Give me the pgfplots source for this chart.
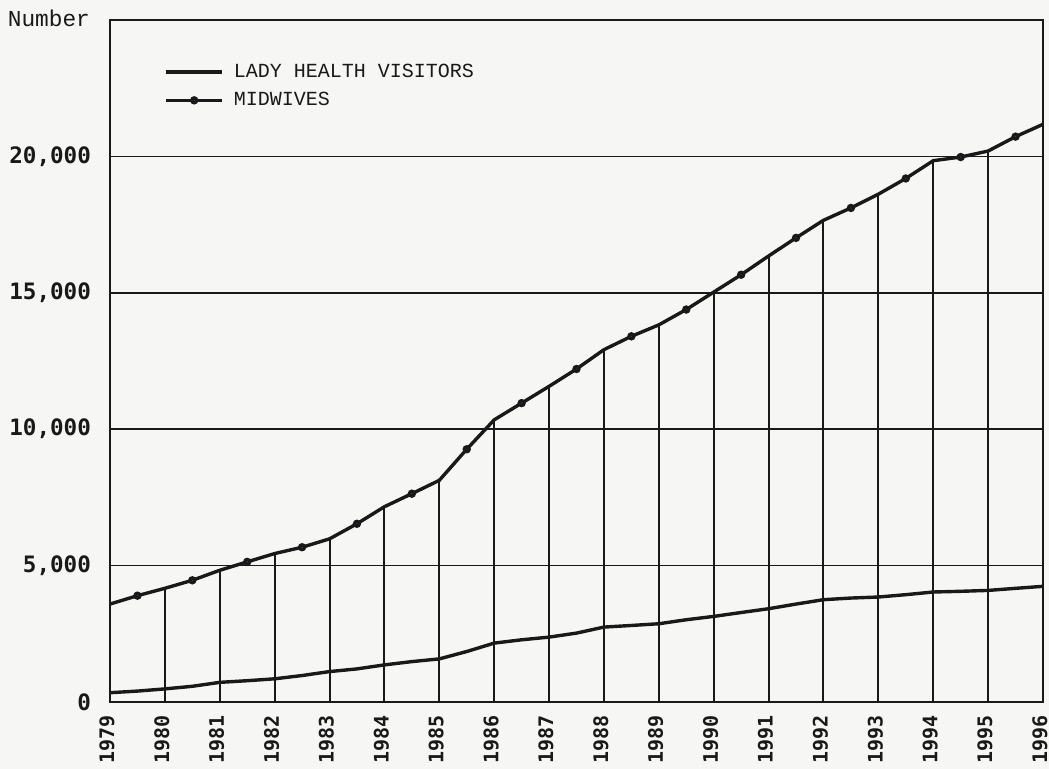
\documentclass[border=0pt]{standalone}
\usepackage{fontspec}
\usepackage{pgfplots}
\pgfplotsset{compat=1.18}
\newfontfamily\tickfont{DejaVu Sans Mono}
\newfontfamily\typefont{Liberation Mono}
\definecolor{paper}{RGB}{246,246,244}
\definecolor{ink}{RGB}{25,25,25}
\begin{document}
\begin{tikzpicture}
\path[use as bounding box, fill=paper] (-55pt,-33.5pt) rectangle (469.5pt,351pt);
\begin{axis}[
  at={(0,0)}, anchor=south west,
  scale only axis, width=466.5pt, height=341pt,
  xmin=1979, xmax=1996, ymin=0, ymax=25000,
  xtick={1979,...,1996},
  ytick={0,5000,10000,15000,20000},
  scaled y ticks=false,
  ymajorgrids, grid style={ink, line width=0.8pt},
  axis line style={ink, line width=1.1pt},
  tick style={draw=none},
  /pgf/number format/assume math mode=true,
  xticklabel style={font=\tickfont\bfseries\fontsize{10}{12}\selectfont, text=ink,
    xshift=-1.5pt, yshift=-3.2pt, rotate=90, anchor=east, /pgf/number format/1000 sep={}},
  yticklabel style={font=\tickfont\bfseries\fontsize{11.3}{13}\selectfont, text=ink,
    /pgf/number format/1000 sep={,}, xshift=-6pt},
  clip=false,
  legend style={draw=none, fill=none, at={(axis description cs:0.058,0.903)}, anchor=west,
    font=\typefont\fontsize{10}{12}\selectfont, row sep=2pt, column sep=3pt, inner sep=0pt, text=ink},
  legend cell align=left,
  legend image code/.code={\draw[mark repeat=2, mark phase=2, #1] plot coordinates {(0pt,0pt) (14pt,0pt) (28pt,0pt)};},
  legend image post style={line width=1.7pt},
]
\addplot[ycomb, ink, line width=1pt, forget plot] coordinates {
(1980,4167) (1981,4828) (1982,5441) (1983,5980) (1984,7158) (1985,8125)
(1986,10342) (1987,11570) (1988,12915) (1989,13824) (1990,15025) (1991,16349)
(1992,17658) (1993,18614) (1994,19842) (1995,20196)};
\addplot[ink, line width=1.7pt] coordinates {
(1979,340) (1979.5,400) (1980,480) (1980.5,575) (1981,720) (1981.5,780)
(1982,850) (1982.5,970) (1983,1115) (1983.5,1213) (1984,1360) (1984.5,1480)
(1985,1580) (1985.5,1850) (1986,2158) (1986.5,2280) (1987,2378) (1987.5,2525)
(1988,2746) (1988.5,2805) (1989,2868) (1989.5,3015) (1990,3137) (1990.5,3280)
(1991,3419) (1991.5,3590) (1992,3750) (1992.5,3810) (1993,3848) (1993.5,3934)
(1994,4032) (1994.5,4057) (1995,4090) (1995.5,4166) (1996,4240)};
\addlegendentry{LADY HEALTH VISITORS}
\addplot[ink, line width=1.7pt, mark=*, mark size=1.2pt, mark repeat=2, mark phase=2,
  mark options={fill=ink!70, draw=none}] coordinates {
(1979,3590) (1979.5,3897) (1980,4167) (1980.5,4461) (1981,4828) (1981.5,5136)
(1982,5441) (1982.5,5673) (1983,5980) (1983.5,6533) (1984,7158) (1984.5,7636)
(1985,8125) (1985.5,9265) (1986,10342) (1986.5,10956) (1987,11570) (1987.5,12206)
(1988,12915) (1988.5,13404) (1989,13824) (1989.5,14386) (1990,15025) (1990.5,15662)
(1991,16349) (1991.5,17013) (1992,17658) (1992.5,18110) (1993,18614) (1993.5,19191)
(1994,19842) (1994.5,19976) (1995,20196) (1995.5,20724) (1996,21176)};
\addlegendentry{MIDWIVES}
\node[anchor=east, xshift=-6.5pt, yshift=1pt, font=\typefont\fontsize{11.4}{13}\selectfont, text=ink] at (rel axis cs:0,1) {Number};
\end{axis}
\end{tikzpicture}
\end{document}
